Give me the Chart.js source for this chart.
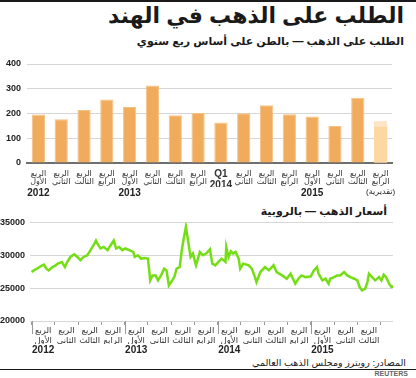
<!DOCTYPE html>
<html>
<head>
<meta charset="utf-8">
<script src="https://cdn.jsdelivr.net/npm/chart.js@4.4.1/dist/chart.umd.min.js"></script>
<style>
    body { margin: 0; background: #fff; }
    #root { position: relative; width: 416px; height: 378px; overflow: hidden; font-family: "Liberation Sans", Arial, "DejaVu Sans", sans-serif; color: #1a1a1a; }
    .rule { position: absolute; left: 0; width: 416px; background: #1a1a1a; }
    .txt { position: absolute; direction: rtl; white-space: nowrap; }
    .box { position: absolute; left: 0; }
</style>
</head>
<body>
<div id="root">
    <div class="rule" style="top:0; height:2px;"></div>
    <div class="txt" style="right:12px; top:3px; font-size:22px; font-weight:bold;">الطلب على الذهب في الهند</div>
    <div class="txt" style="right:12px; top:35px; font-size:11px; font-weight:bold;">الطلب على الذهب — بالطن على أساس ربع سنوي</div>

    <div class="box" style="top:50px;"><canvas id="demandChart" width="416" height="149"></canvas></div>

    <div class="txt" style="right:29px; top:205px; font-size:11px; font-weight:bold;">أسعار الذهب — بالروبية</div>

    <div class="box" style="top:212px;"><canvas id="priceChart" width="416" height="144"></canvas></div>

    <div class="txt" style="right:10px; top:357px; font-size:9.5px;">المصادر: رويترز ومجلس الذهب العالمي</div>
    <div class="rule" style="top:369px; height:1px;"></div>
    <div class="txt" style="right:8px; top:370px; font-size:7px; font-weight:bold; color:#666; direction:ltr;">REUTERS</div>
</div>

<script>
// quarterly demand, tonnes (Q1 2012 .. Q3 2015), plus the Q4 2015 estimate range
const demandQuarters = [
    ['الربع', 'الأول'], ['الربع', 'الثاني'], ['الربع', 'الثالث'], ['الربع', 'الرابع'],
    ['الربع', 'الأول'], ['الربع', 'الثاني'], ['الربع', 'الثالث'], ['الربع', 'الرابع'],
    ['Q1', '2014'], ['الربع', 'الثاني'], ['الربع', 'الثالث'], ['الربع', 'الرابع'],
    ['الربع', 'الأول'], ['الربع', 'الثاني'], ['الربع', 'الثالث'], ['الربع', 'الرابع']
];
const demandYears = ['2012', '', '', '', '2013', '', '', '', '', '', '', '', '2015', '', '', '(تقديرية)'];
const demandTonnes = [196, 177, 214, 257, 226, 313, 193, 202, 164, 201, 233, 197, 188, 150, 264, null];
const estimateLow = [null, null, null, null, null, null, null, null, null, null, null, null, null, null, null, 146];
const estimateHigh = [null, null, null, null, null, null, null, null, null, null, null, null, null, null, null, 169];
const demandTicks = [0, 100, 200, 300, 400];

// gold price in rupees, x = months since Jan 2012
const priceMonth = [0, 0.3, 0.7, 1.2, 1.6, 1.9, 2.2, 2.7, 3.1, 3.4, 3.9, 4.3, 4.6, 5.0, 5.5, 5.9, 6.3, 6.7, 7.2, 7.6,
    8.0, 8.3, 8.6, 8.9, 9.3, 9.8, 10.2, 10.6, 10.9, 11.3, 11.7, 12.1, 12.6, 13.1, 13.3, 13.7, 14.1, 14.6, 15.0, 15.1,
    15.3, 15.6, 16.0, 16.3, 16.7, 17.1, 17.4, 17.7, 18.0, 18.4, 18.7, 19.1, 19.4, 19.7, 19.9, 20.2, 20.5, 20.8, 21.2, 21.7,
    22.1, 22.5, 23.0, 23.3, 23.7, 24.1, 24.5, 25.0, 25.1, 25.4, 25.7, 26.0, 26.3, 26.7, 26.9, 27.3, 28.0, 28.4, 28.8, 29.0,
    29.5, 30.1, 30.6, 31.2, 31.6, 32.3, 32.9, 33.4, 34.0, 34.4, 34.8, 35.3, 36.0, 36.4, 36.8, 37.0, 37.5, 37.9, 38.3, 38.5,
    39.0, 39.4, 39.8, 40.3, 40.7, 41.1, 41.6, 42.0, 42.3, 42.6, 43.0, 43.3, 43.5, 43.9, 44.3, 44.8, 45.1, 45.4, 45.7, 46.1,
    46.4, 46.7];
const priceRupees = [27450, 27700, 27960, 28360, 28570, 27960, 27700, 28210, 28470, 28730, 28980, 28210, 28980, 29740, 30150, 29740, 29240, 29740, 30000, 30770,
    31530, 32250, 31530, 31030, 31270, 30770, 31530, 32250, 31030, 31270, 30770, 31030, 30770, 30510, 29740, 30000, 29490, 29590, 29490, 28470,
    26180, 26940, 26940, 26180, 26940, 27960, 27700, 25410, 25920, 26680, 27960, 28210, 31030, 33060, 34330, 32040, 29740, 30260, 28470, 30510,
    30000, 30260, 30920, 28730, 28470, 28980, 29490, 28980, 31270, 29740, 30610, 30260, 30510, 29490, 27960, 28730, 28470, 27960, 26680, 25920,
    27450, 28210, 27700, 28470, 27450, 26940, 26430, 27200, 25670, 26430, 26940, 26680, 26790, 27700, 28210, 27200, 26180, 26430, 25670, 26430,
    26680, 26940, 26940, 27450, 26940, 26680, 26430, 26180, 25160, 24650, 24900, 25920, 27200, 26680, 26180, 26680, 26180, 27050, 26680, 25670,
    25160, 25300];
const priceQuarters = [
    ['الربع', 'الأول'], ['الربع', 'الثاني'], ['الربع', 'الثالث'], ['الربع', 'الرابع'],
    ['الربع', 'الأول'], ['الربع', 'الثاني'], ['الربع', 'الثالث'], ['الربع', 'الرابع'],
    ['الربع', 'الأول'], ['الربع', 'الثاني'], ['الربع', 'الثالث'], ['الربع', 'الرابع'],
    ['الربع', 'الأول'], ['الربع', 'الثاني'], ['الربع', 'الثالث']
];
const priceYears = ['2012', '2013', '2014', '2015'];
const priceTicks = [20000, 25000, 30000, 35000];

const FONT = '"Liberation Sans", Arial, "DejaVu Sans", sans-serif';
const ORANGE = '#f0ab5c';
const GRID = '#d6d6d6';

Chart.defaults.font.family = FONT;
Chart.defaults.color = '#222';

new Chart(document.getElementById('demandChart'), {
    type: 'bar',
    data: {
        labels: demandQuarters,
        datasets: [{
            data: demandTonnes,
            backgroundColor: ORANGE,
            borderColor: '#f5c285',
            borderWidth: 1,
            grouped: false,
            order: 3
        }, {
            data: estimateHigh,
            backgroundColor: '#fee4c4',
            borderWidth: 0,
            grouped: false,
            order: 2
        }, {
            data: estimateLow,
            backgroundColor: '#fed7a2',
            borderWidth: 0,
            grouped: false,
            order: 1
        }]
    },
    options: {
        responsive: false,
        animation: false,
        devicePixelRatio: 1,
        layout: { padding: { top: 14, right: 24, left: 0, bottom: 0 } },
        plugins: { legend: { display: false }, tooltip: { enabled: false } },
        datasets: { bar: { categoryPercentage: 1, barPercentage: 0.58 } },
        scales: {
            x: {
                afterFit: (scale) => { scale.height = 24; },
                grid: { display: false, drawTicks: false },
                border: { color: '#6e6e6e', width: 2 },
                ticks: {
                    autoSkip: false,
                    maxRotation: 0,
                    padding: 6,
                    color: '#333',
                    font: (c) => c.index === 8
                        ? { size: 10, weight: 'bold', lineHeight: 1.1 }
                        : { size: 8, lineHeight: 1.1 }
                }
            },
            x2: {
                type: 'category',
                labels: demandYears,
                position: 'bottom',
                offset: true,
                afterFit: (scale) => { scale.height = 12; },
                grid: { display: false, drawTicks: false },
                border: { display: false },
                ticks: {
                    autoSkip: false,
                    maxRotation: 0,
                    padding: 0,
                    color: '#222',
                    font: (c) => c.index === 15
                        ? { size: 8, lineHeight: 1.2 }
                        : { size: 10, weight: 'bold', lineHeight: 1.2 }
                }
            },
            y: {
                min: 0,
                max: 400,
                afterBuildTicks: (scale) => { scale.ticks = demandTicks.map(v => ({ value: v })); },
                afterFit: (scale) => { scale.width = 27; },
                grid: { color: GRID, drawTicks: false },
                border: { display: false },
                ticks: { padding: 6, font: { size: 9, weight: 'bold' }, color: '#222', callback: (v) => String(v) }
            }
        }
    }
});

const yearTickMarks = {
    id: 'yearTickMarks',
    afterDraw(chart) {
        const s = chart.scales.x;
        const ctx = chart.ctx;
        ctx.save();
        ctx.strokeStyle = '#999';
        ctx.lineWidth = 1;
        [0, 12, 24, 36].forEach((m) => {
            const px = Math.round(s.getPixelForValue(m)) + 0.5;
            ctx.beginPath();
            ctx.moveTo(px, s.top);
            ctx.lineTo(px, s.top + 13);
            ctx.stroke();
        });
        ctx.restore();
    }
};

new Chart(document.getElementById('priceChart'), {
    type: 'line',
    data: {
        datasets: [{
            data: priceMonth.map((m, i) => ({ x: m, y: priceRupees[i] })),
            borderColor: '#74de14',
            borderWidth: 2.5,
            pointRadius: 0,
            tension: 0,
            fill: false
        }]
    },
    options: {
        responsive: false,
        animation: false,
        devicePixelRatio: 1,
        layout: { padding: { top: 10, right: 23, left: 0, bottom: 0 } },
        plugins: { legend: { display: false }, tooltip: { enabled: false } },
        scales: {
            x: {
                type: 'linear',
                min: -0.2,
                max: 46.6,
                afterBuildTicks: (scale) => {
                    const t = [];
                    for (let m = 0; m <= 45; m += 3) t.push({ value: m });
                    scale.ticks = t;
                },
                afterFit: (scale) => { scale.height = 23; },
                grid: { drawOnChartArea: false, color: '#999', tickLength: 4 },
                border: { display: false },
                ticks: {
                    autoSkip: false,
                    maxRotation: 0,
                    padding: 1,
                    labelOffset: 11.6,
                    color: '#333',
                    font: { size: 8.5, lineHeight: 1.15 },
                    callback: (v) => priceQuarters[v / 3] || ''
                }
            },
            xYear: {
                type: 'linear',
                position: 'bottom',
                min: -0.2,
                max: 46.6,
                afterBuildTicks: (scale) => { scale.ticks = [0, 12, 24, 36].map(v => ({ value: v })); },
                afterFit: (scale) => { scale.height = 12; },
                grid: { display: false, drawTicks: false },
                border: { display: false },
                ticks: {
                    autoSkip: false,
                    maxRotation: 0,
                    padding: 0,
                    labelOffset: 11.6,
                    font: { size: 10, weight: 'bold', lineHeight: 1.2 },
                    callback: (v) => priceYears[v / 12]
                }
            },
            y: {
                min: 20000,
                max: 35000,
                afterBuildTicks: (scale) => { scale.ticks = priceTicks.map(v => ({ value: v })); },
                afterFit: (scale) => { scale.width = 30; },
                grid: { color: GRID, drawTicks: false },
                border: { display: false },
                ticks: { padding: 5, font: { size: 9, weight: 'bold' }, color: '#222', callback: (v) => String(v) }
            }
        }
    },
    plugins: [yearTickMarks]
});
</script>
</body>
</html>
